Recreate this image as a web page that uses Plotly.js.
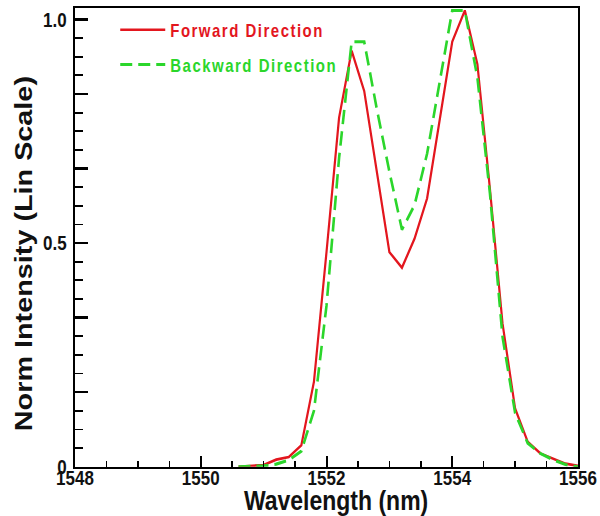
<!DOCTYPE html>
<html>
<head>
<meta charset="utf-8">
<script src="https://cdn.plot.ly/plotly-3.0.1.min.js"></script>
<style>
  html { margin: 0; padding: 0; background: #ffffff; overflow: hidden; }
  body { margin: 0; padding: 0; background: #ffffff; width: 600px; height: 516px; }
  #chart { width: 600px; height: 430px; transform: scaleY(1.2); transform-origin: 0 0; }
  .legendtext { letter-spacing: 1.5px; }
</style>
</head>
<body>
<div id="chart"></div>
<script>
// Wavelength samples (nm)
const wavelength = [1550.6, 1550.8, 1551.0, 1551.2, 1551.4, 1551.6, 1551.8, 1552.0, 1552.2, 1552.4,
                    1552.6, 1552.8, 1553.0, 1553.2, 1553.4, 1553.6, 1553.8, 1554.0, 1554.2, 1554.4,
                    1554.6, 1554.8, 1555.0, 1555.2, 1555.4, 1555.6, 1555.8, 1556.0];
// Normalized intensity, forward direction
const forward = [0, 0.001, 0.004, 0.016, 0.022, 0.048, 0.19, 0.48, 0.78, 0.93,
                 0.84, 0.66, 0.48, 0.445, 0.51, 0.60, 0.77, 0.95, 1.02, 0.90,
                 0.62, 0.32, 0.13, 0.056, 0.03, 0.018, 0.007, 0.002];
// Normalized intensity, backward direction
const backward = [0, 0, 0.002, 0.006, 0.015, 0.035, 0.125, 0.36, 0.69, 0.95,
                  0.95, 0.80, 0.66, 0.53, 0.585, 0.70, 0.86, 1.02, 1.02, 0.87,
                  0.61, 0.29, 0.12, 0.053, 0.03, 0.016, 0.005, 0];
// Axis ticks
const xTickVals = [1548, 1550, 1552, 1554, 1556];
const xTickText = ['1548', '1550', '1552', '1554', '1556'];
const yTickVals = [0, 1/6, 2/6, 0.5, 4/6, 5/6, 1.0];
const yTickText = ['0', '', '', '0.5', '', '', '1.0'];
const seriesNames = ['Forward Direction', 'Backward Direction'];
const xTitle = 'Wavelength (nm)';
const yTitle = 'Norm Intensity (Lin Scale)';

const RED = '#e3161e';
const GREEN = '#2bd62b';
const FONT = '"Liberation Sans", Arial, sans-serif';

const yMinor = [];
for (let k = 1; k < 24; k++) { if (k % 4 !== 0) yMinor.push(k / 24); }

const traces = [
  {
    x: wavelength, y: forward, type: 'scatter', mode: 'lines',
    name: '<span style="color:' + RED + '">' + seriesNames[0] + '</span>',
    legendgroup: 'f',
    line: { color: RED, width: 2.2 }
  },
  {
    x: wavelength, y: backward, type: 'scatter', mode: 'lines',
    name: '<span style="color:' + GREEN + '">' + seriesNames[1] + '</span>',
    legendgroup: 'b',
    line: { color: GREEN, width: 2.6, dash: '12px,6px' }
  }
];

const layout = {
  width: 600, height: 430,
  margin: { l: 75, r: 22, t: 7, b: 41, pad: 0 },
  paper_bgcolor: '#ffffff', plot_bgcolor: '#ffffff',
  font: { family: FONT, color: '#111111', weight: 700 },
  showlegend: true,
  legend: {
    x: 0.08, y: 0.996, xanchor: 'left', yanchor: 'top',
    bgcolor: 'rgba(0,0,0,0)', borderwidth: 0,
    font: { family: FONT, size: 15, weight: 700 },
    itemwidth: 45, tracegroupgap: 6.5, traceorder: 'grouped'
  },
  xaxis: {
    range: [1548, 1556], tickmode: 'array', tickvals: xTickVals, ticktext: xTickText,
    ticks: 'inside', ticklen: 9, tickwidth: 2, tickcolor: '#000',
    showline: true, linewidth: 2, linecolor: '#000', mirror: true,
    showgrid: false, zeroline: false, automargin: false,
    ticklabelstandoff: -7,
    tickfont: { family: FONT, size: 17, weight: 700, color: '#111' },
    minor: { ticks: 'inside', tick0: 1548, dtick: 0.5, ticklen: 5, tickwidth: 1.5, tickcolor: '#000', showgrid: false },
    title: { text: '<span>\u00a0\u00a0\u00a0</span>' + xTitle, font: { family: FONT, size: 23, weight: 700, color: '#111' }, standoff: 10 }
  },
  yaxis: {
    range: [0, 1.0246], tickmode: 'array', tickvals: yTickVals, ticktext: yTickText,
    ticks: 'inside', ticklen: 13, tickwidth: 2, tickcolor: '#000',
    showline: true, linewidth: 2, linecolor: '#000', mirror: true,
    showgrid: false, zeroline: false, automargin: false,
    ticklabelstandoff: 3,
    tickfont: { family: FONT, size: 17, weight: 700, color: '#111' },
    minor: { ticks: 'inside', tickvals: yMinor, ticklen: 8, tickwidth: 1.5, tickcolor: '#000', showgrid: false },
    title: { text: yTitle + '<span>\u00a0\u00a0\u00a0\u00a0</span>', font: { family: FONT, size: 24, weight: 700, color: '#111' }, standoff: 4 }
  }
};

Plotly.newPlot('chart', traces, layout, { displayModeBar: false, staticPlot: true });
</script>
</body>
</html>
